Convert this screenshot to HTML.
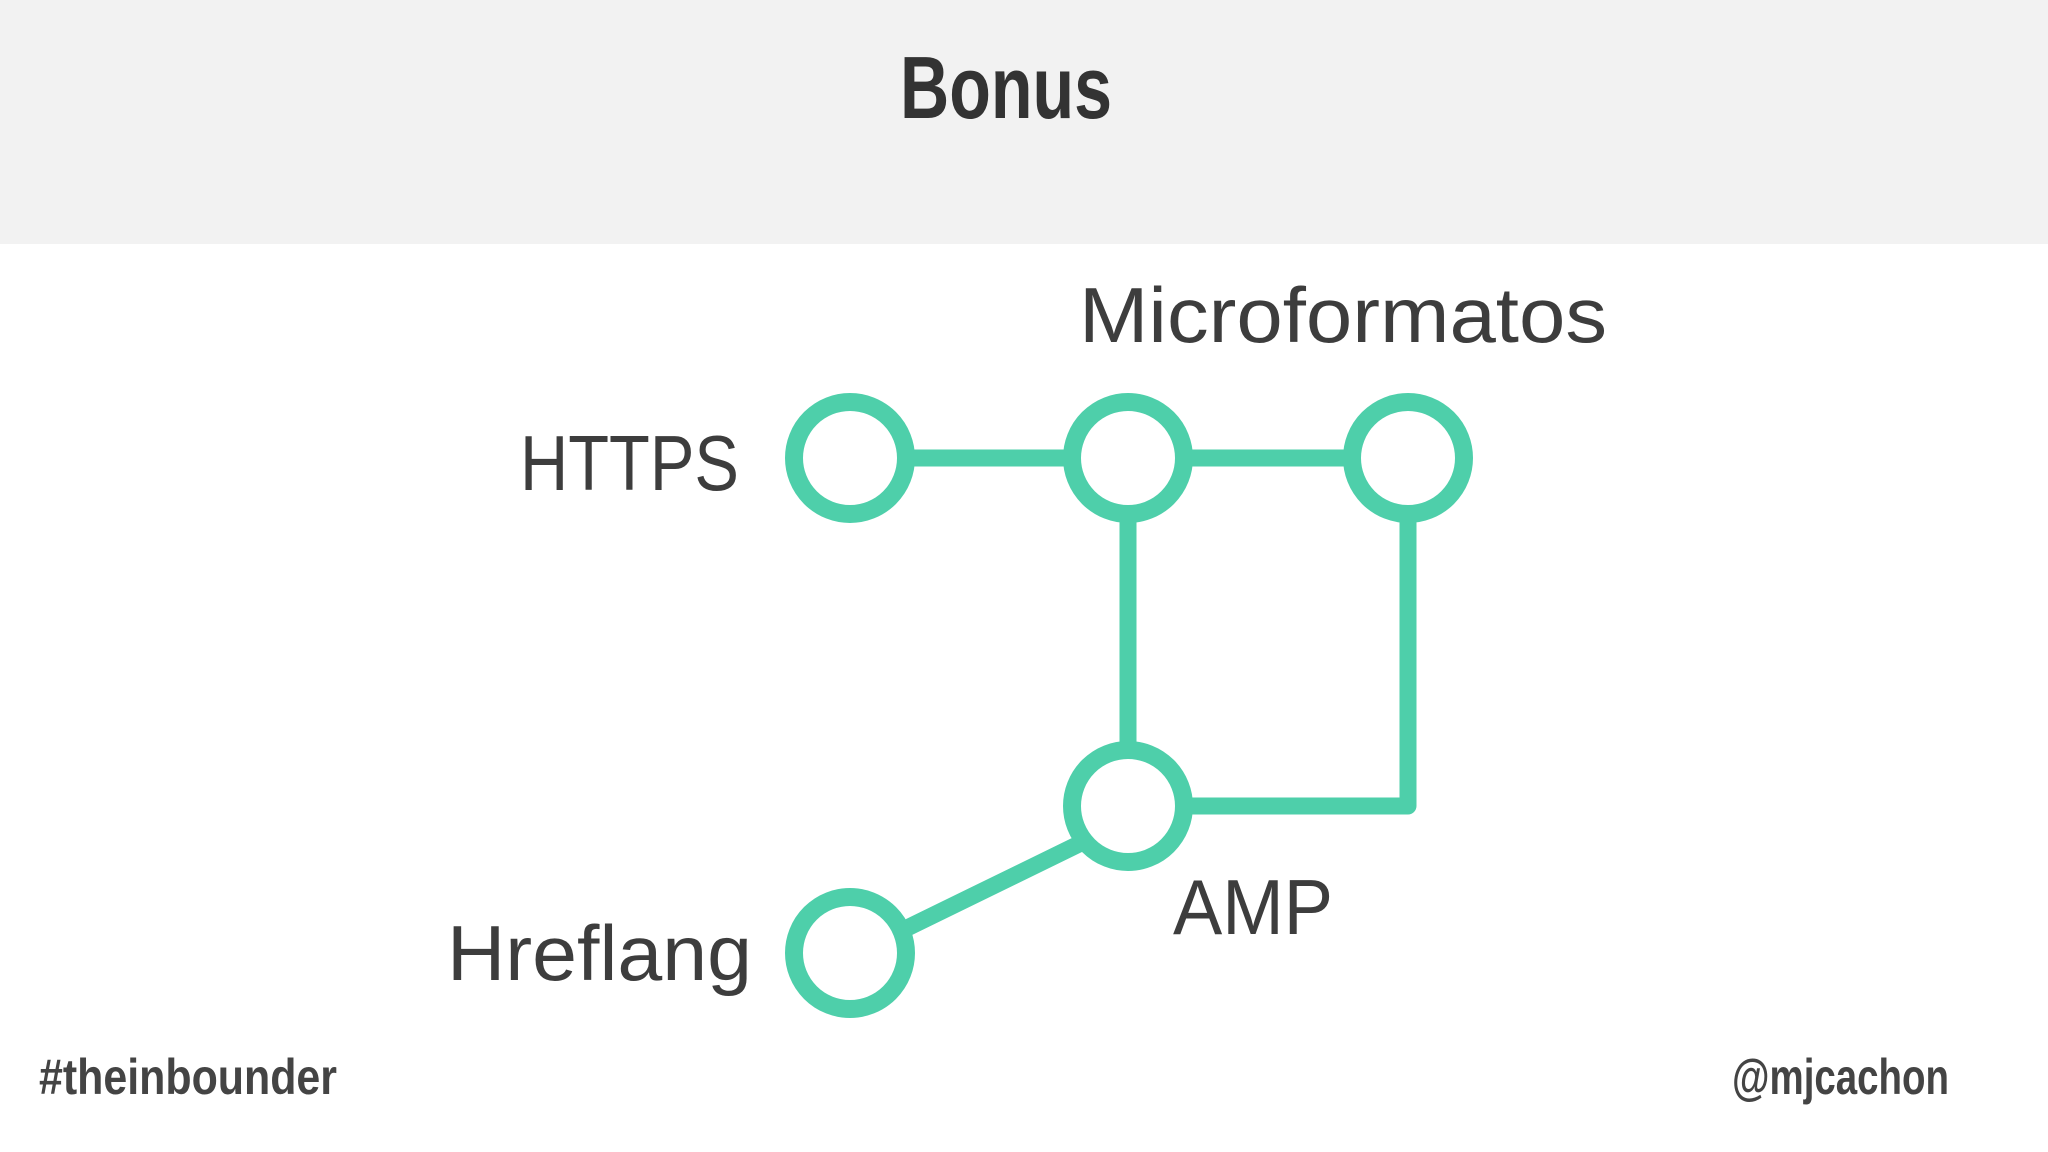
<!DOCTYPE html>
<html><head><meta charset="utf-8"><style>
html,body{margin:0;padding:0;width:2048px;height:1152px;overflow:hidden;background:#fff}
</style></head><body>
<svg width="2048" height="1152" viewBox="0 0 2048 1152" xmlns="http://www.w3.org/2000/svg">
<rect x="0" y="0" width="2048" height="244" fill="#f2f2f2"/>
<text x="1006" y="118" text-anchor="middle" font-family="Liberation Sans, sans-serif" font-weight="bold" font-size="88" fill="#333" textLength="212" lengthAdjust="spacingAndGlyphs">Bonus</text>
<g stroke="#4ecfaa" fill="none" stroke-linecap="round" stroke-linejoin="round">
<line x1="906" y1="458" x2="1072" y2="458" stroke-width="17"/>
<line x1="1184" y1="458" x2="1352" y2="458" stroke-width="17"/>
<line x1="1128" y1="514" x2="1128" y2="750" stroke-width="17"/>
<polyline points="1408,514 1408,806 1184,806" stroke-width="17"/>
<line x1="1079" y1="844" x2="905" y2="929" stroke-width="17"/>
<g stroke-width="18" fill="#fff">
<circle cx="850" cy="458" r="56"/>
<circle cx="1128" cy="458" r="56"/>
<circle cx="1408" cy="458" r="56"/>
<circle cx="1128" cy="806" r="56"/>
<circle cx="850" cy="953" r="56"/>
</g>
</g>
<g font-family="Liberation Sans, sans-serif" fill="#3d3d3d" font-size="78">
<text x="1079" y="342" textLength="528" lengthAdjust="spacingAndGlyphs">Microformatos</text>
<text x="520" y="490" textLength="219" lengthAdjust="spacingAndGlyphs">HTTPS</text>
<text x="447" y="980" textLength="305" lengthAdjust="spacingAndGlyphs">Hreflang</text>
<text x="1173" y="934" textLength="160" lengthAdjust="spacingAndGlyphs">AMP</text>
</g>
<g font-family="Liberation Sans, sans-serif" font-weight="bold" fill="#444" font-size="50">
<text x="39" y="1094" textLength="298" lengthAdjust="spacingAndGlyphs">#theinbounder</text>
<text x="1732" y="1094" textLength="217" lengthAdjust="spacingAndGlyphs">@mjcachon</text>
</g>
</svg>
</body></html>
